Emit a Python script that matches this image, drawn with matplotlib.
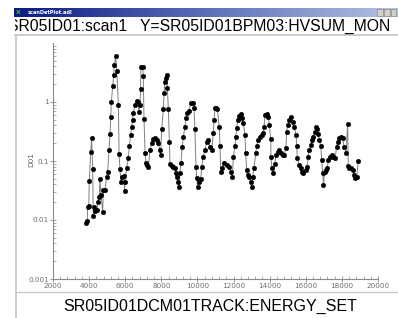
import matplotlib
matplotlib.use("Agg")
import matplotlib.pyplot as plt
import numpy as np
from matplotlib.patches import Rectangle
from matplotlib.lines import Line2D
from matplotlib.colors import LinearSegmentedColormap
from matplotlib.ticker import FixedLocator, FixedFormatter, MultipleLocator, NullFormatter

title_text = "SR05ID01:scan1   Y=SR05ID01BPM03:HVSUM_MON"
window_title = "scanDetPlot.adl"
x_label = "SR05ID01DCM01TRACK:ENERGY_SET"
y_label = "D01"

energy = [3830, 3900, 3920, 3980, 4010, 4090, 4140, 4200, 4230, 4270,
          4340, 4420, 4510, 4560, 4600, 4660, 4750, 4790, 4880, 4970,
          5030, 5100, 5160, 5200, 5230, 5310, 5360, 5400, 5470, 5530,
          5620, 5660, 5710, 5770, 5840, 5930, 5960, 5990, 6080, 6170,
          6230, 6300, 6360, 6410, 6450, 6540, 6640, 6720, 6760, 6820,
          6850, 6870, 6970, 7000, 7040, 7100, 7150, 7220, 7280, 7370,
          7470, 7560, 7650, 7740, 7830, 7930, 7960, 8020, 8110, 8150,
          8200, 8260, 8300, 8330, 8390, 8440, 8480, 8570, 8660, 8760,
          8810, 8850, 8940, 8990, 9030, 9090, 9160, 9220, 9310, 9370,
          9440, 9530, 9630, 9740, 9810, 9860, 9920, 9960, 10010, 10100,
          10180, 10240, 10320, 10420, 10510, 10600, 10690, 10790, 10880, 10920,
          10970, 11050, 11100, 11210, 11250, 11290, 11360, 11470, 11620, 11730,
          11840, 11930, 11990, 12080, 12130, 12170, 12230, 12320, 12390, 12450,
          12540, 12630, 12670, 12730, 12780, 12870, 12950, 13000, 13060, 13130,
          13230, 13280, 13370, 13460, 13560, 13610, 13690, 13740, 13830, 13920,
          13980, 14060, 14070, 14130, 14200, 14290, 14350, 14440, 14530, 14610,
          14720, 14790, 14900, 14940, 15000, 15090, 15160, 15270, 15360, 15460,
          15500, 15530, 15640, 15720, 15770, 15860, 16010, 16080, 16140, 16180,
          16270, 16360, 16420, 16510, 16570, 16640, 16690, 16750, 16830, 16880,
          16940, 16980, 17040, 17120, 17190, 17250, 17340, 17430, 17520, 17620,
          17710, 17770, 17860, 17930, 18040, 18130, 18230, 18320, 18350, 18410,
          18500, 18600, 18670, 18720, 18820, 18910]

d01 = [0.0090, 0.0096, 0.0168, 0.0175, 0.0458, 0.140, 0.248, 0.0723, 0.0118, 0.0168,
       0.0142, 0.0148, 0.0204, 0.0248, 0.0490, 0.0265, 0.0138, 0.0322, 0.0322, 0.0542,
       0.0659, 0.153, 0.284, 0.564, 0.99, 1.89, 2.87, 4.24, 6.10, 3.40,
       0.889, 0.130, 0.0723, 0.0446, 0.0542, 0.0557, 0.0314, 0.0446, 0.0769, 0.111,
       0.179, 0.276, 0.381, 0.495, 0.659, 0.889, 1.04, 1.01, 0.686, 0.889,
       1.64, 3.96, 3.96, 2.76, 0.515, 0.135, 0.0935, 0.0855, 0.0782, 0.153,
       0.200, 0.233, 0.243, 0.227, 0.200, 0.153, 0.126, 0.344, 0.752, 1.40,
       2.21, 2.58, 2.87, 1.75, 0.760, 0.212, 0.0889, 0.0822, 0.0800, 0.0769,
       0.0619, 0.0542, 0.0446, 0.0366, 0.0634, 0.0935, 0.175, 0.258, 0.381, 0.530,
       0.643, 0.703, 0.973, 0.973, 0.782, 0.344, 0.0800, 0.0509, 0.0366, 0.0446,
       0.0490, 0.0800, 0.118, 0.153, 0.212, 0.227, 0.175, 0.153, 0.294, 0.495,
       0.782, 0.800, 0.760, 0.372, 0.179, 0.0659, 0.0752, 0.0914, 0.0855, 0.0800,
       0.0659, 0.0542, 0.118, 0.179, 0.258, 0.358, 0.495, 0.580, 0.627, 0.530,
       0.436, 0.276, 0.135, 0.0703, 0.0580, 0.0542, 0.0446, 0.0366, 0.0542, 0.0752,
       0.135, 0.179, 0.227, 0.258, 0.276, 0.294, 0.372, 0.603, 0.627, 0.564,
       0.407, 0.233, 0.118, 0.0752, 0.0634, 0.0889, 0.126, 0.144, 0.153, 0.135,
       0.126, 0.126, 0.164, 0.314, 0.407, 0.495, 0.551, 0.463, 0.381, 0.276,
       0.179, 0.111, 0.0855, 0.0752, 0.0659, 0.0619, 0.0703, 0.0800, 0.118, 0.153,
       0.187, 0.227, 0.258, 0.314, 0.372, 0.344, 0.284, 0.227, 0.179, 0.104,
       0.0619, 0.0392, 0.0659, 0.0703, 0.0752, 0.104, 0.118, 0.126, 0.116, 0.111,
       0.175, 0.212, 0.243, 0.258, 0.243, 0.175, 0.135, 0.419, 0.0822, 0.0752,
       0.0752, 0.0703, 0.0580, 0.0509, 0.0542, 0.100]

x_ticks = [2000, 4000, 6000, 8000, 10000, 12000, 14000, 16000, 18000, 20000]
y_ticks = [0.001, 0.01, 0.1, 1]
y_tick_labels = ["0.001", "0.01", "0.1", "1"]

W, H = 398, 318
fig = plt.figure(figsize=(W / 100, H / 100), dpi=100)
fig.patch.set_facecolor("white")

def fx(px):
    return px / W

def fy(py):
    return 1 - py / H

# window title bar gradient
bar = fig.add_axes([fx(14), fy(17), fx(398 - 14), (17 - 8) / H])
grad = np.linspace(0, 1, 256).reshape(1, -1)
cmap = LinearSegmentedColormap.from_list("bar", ["#0a1a80", "#5a6fb8", "#b4c2e2"])
bar.imshow(grad, aspect="auto", cmap=cmap, extent=[0, 1, 0, 1])
bar.set_axis_off()
bar.text(0.035, 0.5, window_title, color="white", fontsize=3.6, va="center",
         ha="left", family="DejaVu Sans", fontweight="bold")
bar.text(0.005, 0.5, "X", color="#40c040", fontsize=4.5, va="center", ha="left",
         fontweight="bold")
for bx in [0.945, 0.963, 0.981]:
    bar.add_patch(Rectangle((bx, 0.15), 0.015, 0.7, facecolor="#d4d0c8",
                            edgecolor="#808080", lw=0.4))

# title
fig.text(fx(8), fy(26), title_text, fontsize=11.3, family="Liberation Sans",
         ha="left", va="center", color="black")
fig.patches.append(Rectangle((0, fy(34)), fx(15), (34 - 17) / H,
                             transform=fig.transFigure, facecolor="white",
                             edgecolor="none", zorder=10))

# window borders
gray = "#c8c8c8"
fig.add_artist(Line2D([fx(15), 1], [fy(34.5), fy(34.5)], color=gray, lw=1.3))
fig.add_artist(Line2D([fx(16), fx(16)], [fy(34.5), 0], color=gray, lw=1.3))
fig.add_artist(Line2D([fx(16), 1], [fy(292), fy(292)], color=gray, lw=1.0))

# plot axes
ax = fig.add_axes([fx(53), fy(279), fx(378 - 53), (279 - 43) / H])
ax.plot(energy, d01, color="#808080", lw=0.7, marker="o", markersize=3.3,
        markerfacecolor="black", markeredgecolor="black", markeredgewidth=0.3)
ax.set_yscale("log")
ax.set_xlim(2000, 20000)
ax.set_ylim(0.001, 10)

ax.yaxis.set_major_locator(FixedLocator(y_ticks))
ax.yaxis.set_major_formatter(FixedFormatter(y_tick_labels))
minor_y = [m * 10.0 ** e for e in range(-3, 1) for m in range(2, 10)]
ax.yaxis.set_minor_locator(FixedLocator(minor_y))
ax.yaxis.set_minor_formatter(NullFormatter())
ax.xaxis.set_major_locator(FixedLocator(x_ticks))
ax.set_xticklabels([str(t) for t in x_ticks])
ax.xaxis.set_minor_locator(MultipleLocator(400))

for s in ["top", "right"]:
    ax.spines[s].set_visible(False)
for s in ["left", "bottom"]:
    ax.spines[s].set_color("#8a8a8a")
    ax.spines[s].set_linewidth(0.8)

ax.tick_params(axis="both", which="major", direction="inout", length=4,
               width=0.6, color="#8a8a8a", labelsize=5.2, labelcolor="#707070",
               pad=1)
ax.tick_params(axis="both", which="minor", direction="in", length=2,
               width=0.5, color="#8a8a8a")
for lab in ax.get_xticklabels() + ax.get_yticklabels():
    lab.set_family("DejaVu Sans")

fig.text(fx(31), fy(160), y_label, rotation=90, fontsize=5.2, color="#606060",
         ha="center", va="center")
fig.text(fx(210), fy(306), x_label, fontsize=11.5, family="Liberation Sans",
         ha="center", va="center", color="black")

fig.savefig("out.png", dpi=100)
